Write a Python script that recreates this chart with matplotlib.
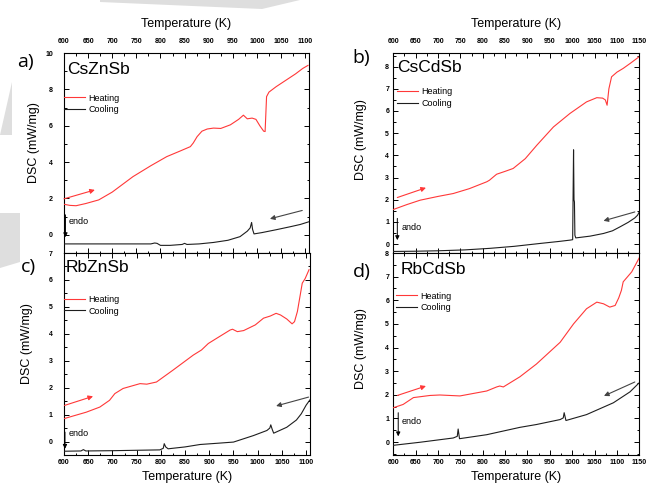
"""
DSC heating / cooling curves for CsZnSb, CsCdSb, RbZnSb and RbCdSb (2x2 panels).
"""

import matplotlib.pyplot as plt
from matplotlib.patches import Polygon
from matplotlib.ticker import MultipleLocator

plt.rcParams["font.family"] = ["Liberation Sans", "DejaVu Sans"]

# --- a) CsZnSb ---------------------------------------------------------------
a_heat_T = [600, 612, 625, 645, 672, 700, 743, 780, 813, 840, 862, 868, 876, 886,
            897, 910, 925, 945, 962, 972, 980, 990, 998, 1006, 1014, 1017, 1020,
            1025, 1040, 1060, 1080, 1095, 1106]
a_heat_dsc = [1.68, 1.62, 1.60, 1.72, 1.92, 2.35, 3.2, 3.8, 4.3, 4.6, 4.85, 5.05,
              5.4, 5.7, 5.82, 5.87, 5.85, 6.05, 6.35, 6.58, 6.38, 6.42, 6.35, 6.0,
              5.7, 5.68, 7.6, 7.85, 8.15, 8.5, 8.85, 9.15, 9.32]
a_cool_T = [600, 700, 780, 788, 793, 800, 820, 845, 850, 855, 880, 910, 940, 965,
            980, 986, 989, 991, 994, 1010, 1040, 1070, 1090, 1108]
a_cool_dsc = [-0.5, -0.5, -0.5, -0.45, -0.47, -0.58, -0.58, -0.53, -0.47, -0.53,
              -0.5, -0.42, -0.3, -0.1, 0.2, 0.38, 0.68, 0.3, 0.05, 0.12, 0.28,
              0.45, 0.57, 0.72]

# --- b) CsCdSb ---------------------------------------------------------------
b_heat_T = [600, 630, 660, 700, 734, 770, 809, 815, 825, 831, 850, 868, 895, 921,
            958, 995, 1032, 1055, 1068, 1074, 1078, 1082, 1088, 1100, 1114, 1130,
            1150]
b_heat_dsc = [1.56, 1.78, 1.98, 2.15, 2.28, 2.5, 2.81, 2.88, 3.05, 3.15, 3.28,
              3.41, 3.85, 4.46, 5.28, 5.89, 6.41, 6.6, 6.58, 6.5, 6.26, 7.0,
              7.54, 7.75, 7.92, 8.15, 8.45]
b_cool_T = [600, 650, 700, 760, 816, 870, 928, 970, 995, 1001, 1003, 1004, 1005,
            1006, 1008, 1040, 1070, 1090, 1107, 1125, 1140, 1146, 1150]
b_cool_dsc = [-0.33, -0.32, -0.3, -0.26, -0.19, -0.1, 0.03, 0.12, 0.18, 0.2,
              4.25, 2.0, 1.9, 0.4, 0.28, 0.36, 0.48, 0.6, 0.78, 0.98, 1.18, 1.3,
              1.45]

# --- c) RbZnSb ---------------------------------------------------------------
c_heat_T = [600, 646, 674, 694, 705, 722, 757, 771, 791, 825, 867, 884, 898, 915,
            943, 948, 958, 971, 995, 1012, 1026, 1038, 1047, 1060, 1071, 1076,
            1082, 1092, 1098, 1106]
c_heat_dsc = [0.85, 1.09, 1.28, 1.53, 1.78, 1.97, 2.15, 2.13, 2.21, 2.65, 3.21,
              3.4, 3.64, 3.83, 4.14, 4.17, 4.08, 4.12, 4.33, 4.58, 4.66, 4.76,
              4.7, 4.55, 4.37, 4.45, 4.83, 5.88, 6.05, 6.38]
c_cool_T = [600, 635, 640, 645, 700, 798, 805, 807, 810, 815, 850, 881, 920, 950,
            991, 1019, 1025, 1027, 1030, 1033, 1060, 1080, 1090, 1100, 1108]
c_cool_dsc = [-0.36, -0.35, -0.3, -0.35, -0.34, -0.31, -0.25, -0.08, -0.2, -0.27,
              -0.2, -0.11, -0.06, -0.02, 0.22, 0.41, 0.5, 0.62, 0.45, 0.31, 0.53,
              0.8, 1.03, 1.35, 1.55]

# --- d) RbCdSb ---------------------------------------------------------------
d_heat_T = [600, 622, 645, 682, 704, 749, 809, 831, 838, 846, 883, 920, 973, 1003,
            1032, 1055, 1070, 1084, 1096, 1104, 1110, 1114, 1133, 1150]
d_heat_dsc = [1.45, 1.59, 1.88, 1.97, 1.99, 1.95, 2.16, 2.33, 2.37, 2.33, 2.76,
              3.3, 4.22, 5.0, 5.64, 5.92, 5.85, 5.71, 5.78, 6.1, 6.42, 6.78, 7.2,
              7.8]
d_cool_T = [600, 660, 734, 743, 745, 748, 809, 883, 920, 973, 980, 982, 986, 1032,
            1092, 1129, 1150]
d_cool_dsc = [-0.14, -0.01, 0.17, 0.24, 0.55, 0.14, 0.31, 0.62, 0.74, 0.95, 1.02,
              1.24, 0.91, 1.16, 1.66, 2.12, 2.51]

HEAT_COLOR = "#ff3838"
COOL_COLOR = "#1e1e1e"
ARROW_GRAY = "#444444"
W, H = 648, 490


def _ax_rect(left, top, right, bottom):
    """Pixel box -> figure fraction rect."""
    return [left / W, 1 - bottom / H, (right - left) / W, (bottom - top) / H]


def _arrow(ax, start, end, color, lw=0.8, scale=7):
    ax.annotate("", xy=end, xytext=start,
                arrowprops=dict(arrowstyle="-|>", color=color, lw=lw,
                                mutation_scale=scale, shrinkA=0, shrinkB=0))


def draw_panel(fig, spec):
    ax = fig.add_axes(_ax_rect(*spec["box"]))
    ax.plot(spec["cool"][0], spec["cool"][1], color=COOL_COLOR, lw=0.8,
            label="Cooling", zorder=3)
    ax.plot(spec["heat"][0], spec["heat"][1], color=HEAT_COLOR, lw=0.8,
            label="Heating", zorder=4)

    ax.set_xlim(*spec["xlim"])
    ax.set_ylim(*spec["ylim"])
    ax.xaxis.set_major_locator(MultipleLocator(50))
    ax.xaxis.set_minor_locator(MultipleLocator(25))
    ax.yaxis.set_major_locator(MultipleLocator(spec["ymajor"]))
    ax.yaxis.set_minor_locator(MultipleLocator(spec["ymajor"] / 2))

    top = spec["top"]
    ax.tick_params(axis="both", which="both", direction="in", top=True,
                   bottom=True, left=True, right=True, width=0.7,
                   labelsize=5)
    ax.tick_params(which="major", length=3.5)
    ax.tick_params(which="minor", length=1.8)
    ax.tick_params(axis="x", labeltop=top, labelbottom=not top,
                   pad=6 if top else 3)
    ax.tick_params(axis="y", pad=spec["ypad"])
    for lab in ax.get_xticklabels() + ax.get_yticklabels():
        lab.set_fontweight("bold")
    for sp in ax.spines.values():
        sp.set_linewidth(0.8)

    ax.set_xlabel("Temperature (K)", fontsize=9)
    if top:
        ax.xaxis.set_label_position("top")
        ax.xaxis.set_label_coords(0.5, 1.13)
    else:
        ax.xaxis.set_label_coords(0.5, -0.08)
    ax.set_ylabel("DSC (mW/mg)", fontsize=9)
    ax.yaxis.set_label_coords(*spec["ylab"])

    ax.text(spec["name_xy"][0], spec["name_xy"][1], spec["name"],
            transform=ax.transAxes, fontsize=12.5, va="center", ha="left")

    ax.legend(loc="upper left", bbox_to_anchor=spec["leg"], frameon=False,
              fontsize=6.5, handlelength=2.3, handletextpad=0.4,
              labelspacing=0.3, borderpad=0, borderaxespad=0,
              reverse=True)

    _arrow(ax, *spec["red_arrow"], HEAT_COLOR)
    _arrow(ax, *spec["gray_arrow"], ARROW_GRAY)
    ex, ey0, ey1, tx, ty = spec["endo"]
    _arrow(ax, (ex, ey0), (ex, ey1), "black", lw=0.7, scale=6)
    ax.text(tx, ty, spec["endo_text"], fontsize=6.5, va="center", ha="left")

    fig.text(spec["letter_xy"][0] / W, 1 - spec["letter_xy"][1] / H,
             spec["letter"], fontsize=14, family=["Open Sans", "DejaVu Sans"],
             ha="center", va="center")
    return ax


def main():
    fig = plt.figure(figsize=(W / 100, H / 100), dpi=100)

    # light grey background shapes from the source page
    for pts in ([(100, 0), (300, 0), (262, 9), (100, 2)],
                [(0, 135), (12, 82), (12, 135)],
                [(0, 213), (20, 213), (20, 262), (0, 268)]):
        fig.patches.append(Polygon([(x / W, 1 - y / H) for x, y in pts],
                                   closed=True, transform=fig.transFigure,
                                   facecolor="#dedede", edgecolor="none",
                                   zorder=0))

    panels = [
        dict(box=(64, 53, 309, 253), heat=(a_heat_T, a_heat_dsc),
             cool=(a_cool_T, a_cool_dsc), xlim=(600, 1108), ylim=(-1, 10),
             ymajor=2, top=True, ypad=8, ylab=(-0.098, 0.55),
             name="CsZnSb", name_xy=(0.012, 0.92), leg=(0.0, 0.797),
             red_arrow=((600, 1.98), (664, 2.47)),
             gray_arrow=((1094, 1.34), (1027, 0.88)),
             endo=(603, 1.1, -0.13, 609, 0.73), endo_text="endo",
             letter="a)", letter_xy=(25, 62)),
        dict(box=(393.3, 53.3, 639.3, 253), heat=(b_heat_T, b_heat_dsc),
             cool=(b_cool_T, b_cool_dsc), xlim=(600, 1150), ylim=(-0.4, 8.6),
             ymajor=1, top=True, ypad=3, ylab=(-0.107, 0.57),
             name="CsCdSb", name_xy=(0.016, 0.93), leg=(0.015, 0.83),
             red_arrow=((609, 2.1), (673, 2.54)),
             gray_arrow=((1140, 1.45), (1070, 1.05)),
             endo=(609, 1.16, 0.18, 619, 0.73), endo_text="ando",
             letter="b)", letter_xy=(361, 58)),
        dict(box=(64, 253, 310, 455), heat=(c_heat_T, c_heat_dsc),
             cool=(c_cool_T, c_cool_dsc), xlim=(600, 1108), ylim=(-0.5, 7),
             ymajor=1, top=False, ypad=8, ylab=(-0.126, 0.55),
             name="RbZnSb", name_xy=(0.005, 0.928), leg=(0.0, 0.793),
             red_arrow=((601, 1.34), (660, 1.68)),
             gray_arrow=((1105, 1.65), (1038, 1.32)),
             endo=(602, 0.35, -0.27, 609, 0.31), endo_text="endo",
             letter="c)", letter_xy=(28, 267)),
        dict(box=(393.3, 253, 639.3, 455), heat=(d_heat_T, d_heat_dsc),
             cool=(d_cool_T, d_cool_dsc), xlim=(600, 1150), ylim=(-0.55, 8),
             ymajor=1, top=False, ypad=3, ylab=(-0.107, 0.525),
             name="RbCdSb", name_xy=(0.028, 0.92), leg=(0.011, 0.809),
             red_arrow=((609, 1.97), (673, 2.37)),
             gray_arrow=((1140, 2.54), (1071, 1.95)),
             endo=(611, 1.24, 0.24, 619, 0.88), endo_text="endo",
             letter="d)", letter_xy=(362, 272)),
    ]
    for spec in panels:
        draw_panel(fig, spec)

    fig.savefig("out.png", dpi=100)
    plt.close(fig)


if __name__ == "__main__":
    main()
